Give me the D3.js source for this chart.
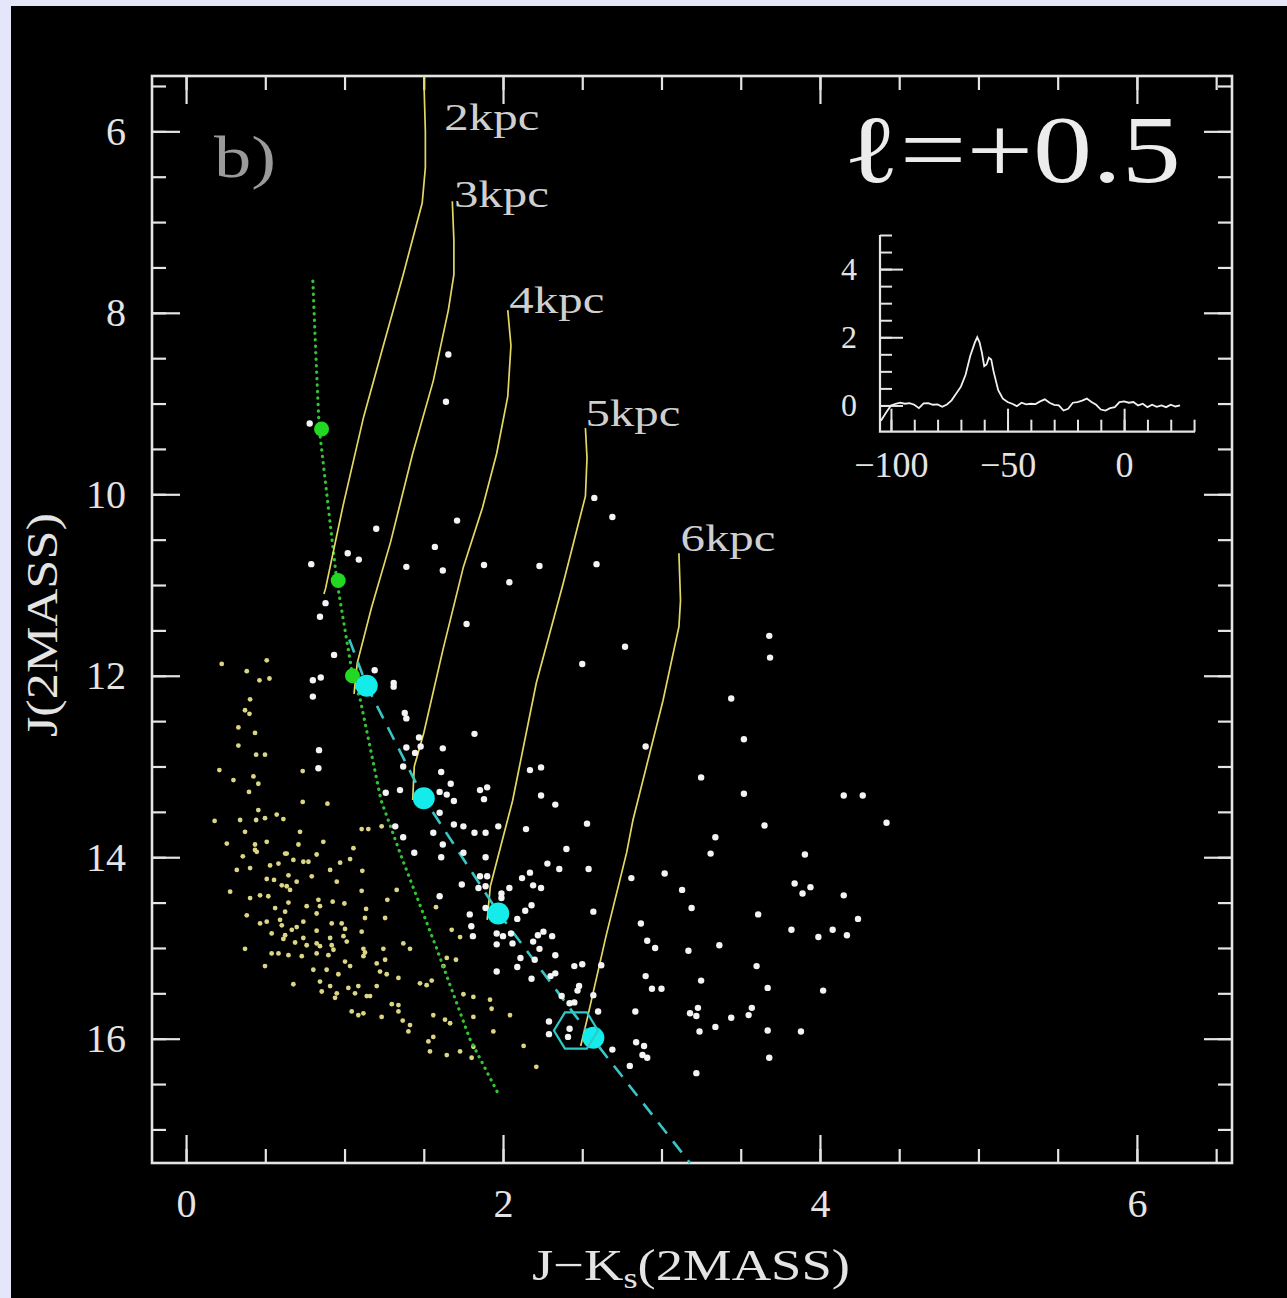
<!DOCTYPE html>
<html>
<head>
<meta charset="utf-8">
<script src="https://cdn.jsdelivr.net/npm/d3@7"></script>
<style>
  body { margin: 0; background: #e6e6fa; }
  svg text { font-family: "Liberation Serif", "DejaVu Serif", serif; }
</style>
</head>
<body>
<div id="cmd"></div>
<script>
// ---- data ----
var xMajor = [0, 2, 4, 6];
var yMajor = [6, 8, 10, 12, 14, 16];
var insetXMajor = [-100, -50, 0];
var insetYMajor = [0, 2, 4];

// unreddened track (green dotted) and its marked points
var greenTrack = [[0.80, 7.65], [0.82, 8.5], [0.84, 9.27], [0.95, 10.94], [1.05, 11.99], [1.10, 12.27],
    [1.23, 13.37], [1.36, 14.0], [1.58, 15.0], [1.79, 16.0], [1.98, 16.64]];
var greenDots = [[0.855, 9.28], [0.96, 10.95], [1.05, 12.0]];

// reddening track (cyan dashed) and clump positions
var cyanTrack = [[1.03, 11.6], [1.14, 12.11], [1.50, 13.35], [1.97, 14.61], [2.57, 16.01], [3.18, 17.37]];
var cyanDots = [[1.14, 12.11], [1.50, 13.35], [1.97, 14.62], [2.57, 15.99]];
var hexSource = [2.46, 15.91];

// distance tracks
var trackNames = ["2kpc", "3kpc", "4kpc", "5kpc", "6kpc"];
var trackLabelPos = [[1.63, 5.99], [1.69, 6.83], [2.04, 8.0], [2.52, 9.25], [3.12, 10.63]];
var trackPoints = [
    [[1.50, 5.39], [1.51, 6.0], [1.51, 6.40], [1.49, 6.79], [1.37, 7.58], [1.245, 8.36], [1.12, 9.15], [0.99, 10.13], [0.88, 11.04], [0.87, 11.1]],
    [[1.68, 6.77], [1.69, 7.2], [1.69, 7.58], [1.655, 7.97], [1.56, 8.75], [1.43, 9.55], [1.29, 10.53], [1.17, 11.25], [1.08, 11.86], [1.06, 12.2]],
    [[2.03, 7.97], [2.05, 8.36], [2.03, 8.92], [1.96, 9.55], [1.87, 10.15], [1.75, 10.80], [1.62, 11.72], [1.50, 12.63], [1.44, 13.0], [1.43, 13.37]],
    [[2.52, 9.27], [2.53, 9.6], [2.52, 10.02], [2.38, 10.98], [2.21, 12.08], [2.06, 13.38], [1.92, 14.32], [1.90, 14.69]],
    [[3.11, 10.65], [3.12, 11.17], [3.11, 11.46], [3.01, 12.27], [2.82, 13.59], [2.78, 13.95], [2.65, 14.87], [2.53, 15.79], [2.49, 16.08]]
];

// stars towards the cloud (white)
var whiteStars = [
    [1.655, 8.46], [1.64, 8.98], [0.78, 9.22], [1.20, 10.38], [1.71, 10.29], [1.57, 10.58], [2.576, 10.04], [2.69, 10.25],
    [0.79, 10.77], [1.02, 10.65], [1.09, 10.72], [1.39, 10.80], [1.62, 10.84], [1.88, 10.78], [2.04, 10.97], [2.23, 10.79],
    [2.59, 10.77], [0.88, 11.2], [0.845, 11.35], [0.934, 11.77], [1.77, 11.43], [2.77, 11.68], [2.50, 11.87], [3.68, 11.56],
    [3.685, 11.80], [3.44, 12.25], [3.52, 12.70], [2.90, 12.78], [3.25, 13.12], [3.52, 13.30],
    [1.19, 11.94], [1.31, 12.08], [1.31, 12.12], [1.38, 12.41], [1.39, 12.47], [1.47, 12.68], [1.48, 12.78], [1.62, 12.80],
    [1.39, 12.79], [1.37, 13.0], [1.445, 12.85], [1.82, 12.64], [1.61, 13.06], [1.67, 13.19], [1.60, 13.28], [1.645, 13.31],
    [1.69, 13.38], [1.35, 13.26], [1.60, 13.51], [1.855, 13.26], [1.90, 13.23], [1.88, 13.36], [2.17, 13.04], [2.24, 13.01],
    [2.24, 13.32], [2.33, 13.42], [1.26, 13.29],
    [4.15, 13.32], [4.27, 13.32], [4.42, 13.62], [3.65, 13.65], [3.34, 13.78], [3.31, 13.96], [3.905, 13.97], [3.84, 14.29],
    [3.94, 14.33], [3.89, 14.40], [4.15, 14.42], [4.24, 14.68], [3.82, 14.80], [4.08, 14.80], [3.99, 14.88], [4.17, 14.86],
    [3.61, 14.63], [3.02, 14.18], [3.13, 14.36], [3.19, 14.56], [2.81, 14.23], [2.87, 14.73], [2.91, 14.92], [2.96, 15.0],
    [3.17, 15.03], [3.365, 14.97], [3.60, 15.20], [3.25, 15.36], [3.67, 15.44], [4.02, 15.47], [2.90, 15.31], [2.94, 15.45],
    [3.0, 15.45], [3.23, 15.66], [3.18, 15.72], [3.22, 15.75], [3.44, 15.77], [3.57, 15.66], [3.55, 15.74], [3.34, 15.87],
    [3.24, 15.92], [3.67, 15.91], [3.88, 15.92], [2.835, 15.70], [2.84, 16.04], [2.89, 16.08], [2.88, 16.18], [2.91, 16.21],
    [3.68, 16.21], [3.22, 16.38], [2.69, 16.12], [2.80, 16.30], [2.60, 15.70], [2.57, 15.52], [2.48, 15.42], [2.45, 15.20],
    [2.50, 15.18], [2.62, 15.19], [2.47, 15.47], [2.37, 15.53], [2.42, 15.61], [2.45, 15.60], [2.29, 15.81], [2.29, 15.95],
    [2.42, 15.89], [2.41, 15.98],
    [2.145, 13.69], [2.53, 13.63], [2.40, 13.91], [1.97, 13.66], [1.89, 13.73], [1.89, 14.0], [2.28, 14.07], [2.355, 14.13],
    [2.54, 14.13], [2.17, 14.17], [2.12, 14.23], [2.19, 14.31], [2.24, 14.34], [2.04, 14.34], [1.99, 14.40], [2.18, 14.53],
    [2.14, 14.59], [2.57, 14.60], [2.09, 14.68], [2.05, 14.84], [1.96, 14.84], [2.0, 14.87], [1.96, 14.96], [2.06, 14.95],
    [2.255, 14.82], [2.22, 14.86], [2.31, 14.87], [2.19, 14.93], [2.23, 15.01], [2.33, 15.08], [2.11, 15.11], [2.20, 15.13],
    [2.09, 15.21], [1.96, 15.26], [2.18, 15.34], [2.30, 15.31], [2.33, 15.28], [1.90, 14.21], [1.89, 14.32], [1.89, 14.56],
    [0.80, 12.05], [0.85, 12.02], [0.80, 12.23], [0.839, 12.82], [0.835, 13.02], [1.32, 13.66], [1.37, 13.78], [1.69, 13.64],
    [1.75, 13.66], [1.56, 13.73], [1.62, 13.86], [1.44, 13.95], [1.75, 13.95], [1.82, 13.73],
    [1.61, 14.0], [1.74, 14.30], [1.855, 14.21], [1.845, 14.34], [1.99, 14.45], [1.60, 14.43], [1.79, 14.63], [1.80, 14.76],
    [1.81, 14.87]
];

// control field stars (yellow)
var yellowStars = [
    [0.225, 11.87], [0.509, 11.83], [0.383, 11.95], [0.463, 12.05], [0.526, 12.03], [0.404, 12.26], [0.372, 12.38],
    [0.400, 12.42], [0.330, 12.57], [0.435, 12.63], [0.330, 12.77], [0.442, 12.87], [0.498, 12.87], [0.210, 13.04],
    [0.299, 13.15], [0.425, 13.11], [0.456, 13.19], [0.397, 13.28], [0.736, 13.05], [0.736, 13.39], [0.892, 13.41],
    [0.456, 13.48], [0.341, 13.59], [0.442, 13.59], [0.498, 13.57], [0.572, 13.53], [0.614, 13.58], [0.372, 13.72],
    [0.719, 13.72], [0.257, 13.85], [0.435, 13.86], [0.509, 13.83], [0.435, 13.92], [0.625, 13.96], [0.866, 13.83],
    [1.108, 13.69], [1.150, 13.69], [1.234, 13.66], [1.056, 13.90], [0.709, 13.86], [0.18, 13.6],
    [0.358, 13.99], [0.446, 13.94], [0.635, 13.96], [0.677, 14.03], [0.583, 14.07], [0.530, 14.09], [0.740, 14.05],
    [0.772, 14.05], [0.824, 13.97], [0.972, 14.06], [1.035, 14.02], [0.404, 14.12], [0.320, 14.14], [0.509, 14.24],
    [0.555, 14.25], [0.646, 14.20], [0.698, 14.27], [0.793, 14.21], [0.909, 14.14], [0.951, 14.27], [1.112, 14.15],
    [0.278, 14.38], [0.467, 14.42], [0.519, 14.43], [0.404, 14.45], [0.635, 14.32], [0.604, 14.31], [0.656, 14.36],
    [0.835, 14.47], [0.845, 14.54], [0.925, 14.49], [0.999, 14.51], [1.108, 14.37], [1.270, 14.47], [1.329, 14.36],
    [0.383, 14.64], [0.562, 14.56], [0.625, 14.60], [0.646, 14.50], [0.761, 14.54], [0.824, 14.62], [1.136, 14.57],
    [1.577, 14.55], [1.129, 14.67], [1.256, 14.67], [0.467, 14.73], [0.509, 14.71], [0.593, 14.69], [0.604, 14.75],
    [0.698, 14.77], [0.740, 14.71], [0.824, 14.81], [0.919, 14.73], [0.982, 14.73], [1.003, 14.79], [1.108, 14.82],
    [1.676, 14.80], [1.729, 14.88], [0.540, 14.84], [0.625, 14.86], [0.667, 14.80], [0.740, 14.89], [0.614, 14.90],
    [0.688, 14.94], [0.761, 14.97], [0.824, 14.95], [0.845, 14.98], [0.909, 14.89], [0.919, 14.97], [0.993, 14.87],
    [1.014, 14.93], [1.119, 15.01], [1.129, 15.05], [1.245, 15.01], [1.371, 14.95], [1.413, 15.01], [0.372, 15.01],
    [0.540, 15.06], [0.583, 15.06], [0.646, 15.08], [0.730, 15.09], [0.824, 15.06], [0.898, 15.08], [0.930, 15.02],
    [1.003, 15.15], [1.035, 15.20], [1.119, 15.09], [1.203, 15.17], [1.256, 15.13], [1.645, 15.11], [1.703, 15.13],
    [0.498, 15.20], [0.803, 15.24], [0.887, 15.24], [0.961, 15.29], [1.224, 15.26], [1.266, 15.29], [1.340, 15.33],
    [1.476, 15.39], [1.518, 15.41], [1.550, 15.36], [1.624, 15.20], [0.677, 15.40], [0.845, 15.37], [0.909, 15.42],
    [0.856, 15.48], [0.951, 15.50], [0.940, 15.55], [1.024, 15.44], [1.066, 15.50], [1.087, 15.42], [1.140, 15.53],
    [1.161, 15.53], [1.203, 15.42], [1.298, 15.62], [1.340, 15.63], [1.340, 15.70], [1.045, 15.70], [1.087, 15.74],
    [1.119, 15.72], [1.234, 15.76], [1.367, 15.80], [1.413, 15.85], [1.403, 15.92], [1.560, 15.74], [1.634, 15.79],
    [1.666, 15.83], [1.750, 15.51], [1.813, 15.54], [1.813, 15.76], [1.918, 15.57], [1.928, 15.67], [1.939, 15.92],
    [2.044, 15.74], [1.529, 16.03], [1.560, 15.98], [1.539, 16.14], [1.645, 16.18], [1.729, 16.14], [1.802, 16.21],
    [1.813, 16.09], [2.13, 16.08], [2.21, 16.31]
];

// CO spectrum in the inset (velocity km/s, intensity)
var spectrumVel = [-104.3, -102, -100, -98, -96, -94, -92, -90, -88, -86, -84, -82, -80, -78, -76, -74, -72, -70, -68,
    -66, -64, -63, -62, -61, -60, -59, -58, -57, -56, -54, -52, -50, -48, -46, -44, -42, -40, -38, -36, -34, -32, -30,
    -28, -26, -24, -22, -20, -18, -16, -14, -12, -10, -8, -6, -4, -2, 0, 2, 4, 6, 8, 10, 12, 14, 16, 18, 20, 22, 24];
var spectrumTb = [-0.45, -0.2, 0.0, 0.05, 0.08, 0.05, 0.07, 0.02, -0.08, 0.06, 0.07, 0.02, 0.03, -0.04, 0.03, 0.15,
    0.35, 0.55, 0.9, 1.45, 1.85, 2.0, 1.85, 1.55, 1.15, 1.2, 1.4, 1.35, 1.0, 0.45, 0.2, 0.1, 0.05, -0.02, 0.08, 0.03,
    0.05, 0.04, 0.12, 0.18, 0.08, 0.02, 0.0, -0.15, -0.1, 0.08, 0.1, 0.14, 0.2, 0.1, 0.02, -0.12, -0.15, -0.08, -0.05,
    0.1, 0.12, 0.08, 0.1, 0.0, 0.05, -0.05, 0.02, -0.04, 0.0, -0.05, 0.02, -0.03, 0.0];

// ---- drawing ----
var W = 1287, H = 1298;
var fg = "#e4e4e4";

var svg = d3.select("#cmd").append("svg")
    .attr("width", W)
    .attr("height", H);

svg.append("rect").attr("x", 0).attr("y", 0).attr("width", W).attr("height", H).attr("fill", "#e6e6fa");
svg.append("rect").attr("x", 11).attr("y", 6).attr("width", W - 11).attr("height", H - 6).attr("fill", "#000");

var x = d3.scaleLinear().domain([-0.215, 6.6]).range([152, 1232]);
var y = d3.scaleLinear().domain([5.39, 17.37]).range([76, 1163]);

var line = d3.line().x(function(d) { return x(d[0]); }).y(function(d) { return y(d[1]); });

function styleAxis(g, width) {
    g.select(".domain").remove();
    g.selectAll(".tick line").attr("stroke", fg).attr("stroke-width", width);
    g.selectAll(".tick text").attr("fill", fg).attr("font-family", "'Liberation Serif', 'DejaVu Serif', serif");
}

var xMinor = d3.range(0, 6.6, 0.5);
var yMinor = d3.range(5.5, 17.3, 0.5);

// minor ticks, all four sides
svg.append("g").attr("transform", "translate(0,1163)")
    .call(d3.axisBottom(x).tickValues(xMinor).tickSize(-14).tickFormat(""))
    .call(styleAxis, 2.2);
svg.append("g").attr("transform", "translate(0,76)")
    .call(d3.axisTop(x).tickValues(xMinor).tickSize(-14).tickFormat(""))
    .call(styleAxis, 2.2);
svg.append("g").attr("transform", "translate(152,0)")
    .call(d3.axisLeft(y).tickValues(yMinor).tickSize(-14).tickFormat(""))
    .call(styleAxis, 2.2);
svg.append("g").attr("transform", "translate(1232,0)")
    .call(d3.axisRight(y).tickValues(yMinor).tickSize(-14).tickFormat(""))
    .call(styleAxis, 2.2);

// major ticks with labels
svg.append("g").attr("transform", "translate(0,1163)")
    .call(d3.axisBottom(x).tickValues(xMajor).tickSize(-28).tickPadding(26).tickFormat(d3.format("d")))
    .call(styleAxis, 2.2)
    .selectAll(".tick text").attr("font-size", 40);
svg.append("g").attr("transform", "translate(0,76)")
    .call(d3.axisTop(x).tickValues(xMajor).tickSize(-28).tickFormat(""))
    .call(styleAxis, 2.2);
svg.append("g").attr("transform", "translate(152,0)")
    .call(d3.axisLeft(y).tickValues(yMajor).tickSize(-28).tickPadding(26).tickFormat(d3.format("d")))
    .call(styleAxis, 2.2)
    .selectAll(".tick text").attr("font-size", 40);
svg.append("g").attr("transform", "translate(1232,0)")
    .call(d3.axisRight(y).tickValues(yMajor).tickSize(-28).tickFormat(""))
    .call(styleAxis, 2.2);

svg.append("rect")
    .attr("x", 152).attr("y", 76).attr("width", 1080).attr("height", 1087)
    .attr("fill", "none").attr("stroke", fg).attr("stroke-width", 2.6);

// axis titles
svg.append("text")
    .attr("transform", "translate(42,625) rotate(-90)")
    .attr("text-anchor", "middle").attr("dominant-baseline", "central")
    .attr("font-size", 44).attr("fill", fg)
    .attr("textLength", 224).attr("lengthAdjust", "spacingAndGlyphs")
    .text("J(2MASS)");

var xt = svg.append("text")
    .attr("x", 532).attr("y", 1280)
    .attr("font-size", 45).attr("fill", fg)
    .attr("textLength", 318).attr("lengthAdjust", "spacingAndGlyphs");
xt.append("tspan").text("J\u2212K");
xt.append("tspan").attr("dy", 8).attr("font-size", 30).text("s");
xt.append("tspan").attr("dy", -8).text("(2MASS)");

// panel annotations
svg.append("text").attr("x", 214).attr("y", 177)
    .attr("font-size", 60).attr("fill", "#9a9a9a")
    .attr("textLength", 62).attr("lengthAdjust", "spacingAndGlyphs")
    .text("b)");
svg.append("text").attr("x", 843).attr("y", 182)
    .attr("font-size", 96).attr("fill", "#ececec")
    .attr("textLength", 338).attr("lengthAdjust", "spacingAndGlyphs")
    .text("\u2113=+0.5");

// control field stars
svg.append("g").selectAll("circle")
    .data(yellowStars).enter()
    .append("circle")
    .attr("cx", function(d) { return x(d[0]); })
    .attr("cy", function(d) { return y(d[1]); })
    .attr("r", 2.4)
    .attr("fill", "#dcd585");

// green dotted track
svg.append("path")
    .datum(greenTrack)
    .attr("d", line)
    .attr("fill", "none")
    .attr("stroke", "#33c433")
    .attr("stroke-width", 3.2)
    .attr("stroke-linecap", "round")
    .attr("stroke-dasharray", "0.3,6.2");

// distance tracks
svg.append("g").selectAll("path")
    .data(trackPoints).enter()
    .append("path")
    .attr("d", line)
    .attr("fill", "none")
    .attr("stroke", "#e2d862")
    .attr("stroke-width", 1.7);

svg.append("g").selectAll("text")
    .data(trackNames).enter()
    .append("text")
    .attr("x", function(d, i) { return x(trackLabelPos[i][0]); })
    .attr("y", function(d, i) { return y(trackLabelPos[i][1]); })
    .attr("font-size", 37)
    .attr("fill", "#cfcfcf")
    .attr("textLength", 95)
    .attr("lengthAdjust", "spacingAndGlyphs")
    .text(function(d) { return d; });

// cyan dashed track
svg.append("path")
    .datum(cyanTrack)
    .attr("d", line)
    .attr("fill", "none")
    .attr("stroke", "#3cc4c4")
    .attr("stroke-width", 2.6)
    .attr("stroke-dasharray", "14,10");

// stars towards the cloud
svg.append("g").selectAll("circle")
    .data(whiteStars).enter()
    .append("circle")
    .attr("cx", function(d) { return x(d[0]); })
    .attr("cy", function(d) { return y(d[1]); })
    .attr("r", 3.2)
    .attr("fill", "#f4f4f4");

// marked points
svg.append("g").selectAll("circle")
    .data(greenDots).enter()
    .append("circle")
    .attr("cx", function(d) { return x(d[0]); })
    .attr("cy", function(d) { return y(d[1]); })
    .attr("r", 7.5)
    .attr("fill", "#22d822");

svg.append("g").selectAll("circle")
    .data(cyanDots).enter()
    .append("circle")
    .attr("cx", function(d) { return x(d[0]); })
    .attr("cy", function(d) { return y(d[1]); })
    .attr("r", 11)
    .attr("fill", "#14ecec");

var hexR = 22;
var hex = d3.range(6).map(function(k) {
    var a = k * Math.PI / 3;
    return [x(hexSource[0]) + hexR * Math.cos(a), y(hexSource[1]) + hexR * 0.95 * Math.sin(a)];
});
svg.append("path")
    .attr("d", "M" + hex.join("L") + "Z")
    .attr("fill", "none")
    .attr("stroke", "#2ccaca")
    .attr("stroke-width", 2.2);

// ---- inset spectrum ----
var xi = d3.scaleLinear().domain([-104.7, 30.4]).range([880, 1195]);
var yi = d3.scaleLinear().domain([-0.77, 5]).range([431.7, 235]);

var insetXMinor = d3.range(-100, 31, 10);
var insetYMinor = d3.range(0, 5.01, 0.5);

svg.append("g").attr("transform", "translate(0,431.7)")
    .call(d3.axisBottom(xi).tickValues(insetXMinor).tickSize(-12).tickFormat(""))
    .call(styleAxis, 2);
svg.append("g").attr("transform", "translate(0,431.7)")
    .call(d3.axisBottom(xi).tickValues(insetXMajor).tickSize(-23).tickPadding(20)
        .tickFormat(function(d) { return d < 0 ? "\u2212" + (-d) : d; }))
    .call(styleAxis, 2)
    .selectAll(".tick text").attr("font-size", 36);
svg.append("g").attr("transform", "translate(880,0)")
    .call(d3.axisLeft(yi).tickValues(insetYMinor).tickSize(-12).tickFormat(""))
    .call(styleAxis, 2);
svg.append("g").attr("transform", "translate(880,0)")
    .call(d3.axisLeft(yi).tickValues(insetYMajor).tickSize(-23).tickPadding(23).tickFormat(d3.format("d")))
    .call(styleAxis, 2)
    .selectAll(".tick text").attr("font-size", 32);

svg.append("path")
    .attr("d", "M880,235V431.7H1195")
    .attr("fill", "none")
    .attr("stroke", fg)
    .attr("stroke-width", 2.2);

svg.append("path")
    .datum(d3.zip(spectrumVel, spectrumTb))
    .attr("d", d3.line().x(function(d) { return xi(d[0]); }).y(function(d) { return yi(d[1]); }))
    .attr("fill", "none")
    .attr("stroke", "#f0f0f0")
    .attr("stroke-width", 1.8);
</script>
</body>
</html>
